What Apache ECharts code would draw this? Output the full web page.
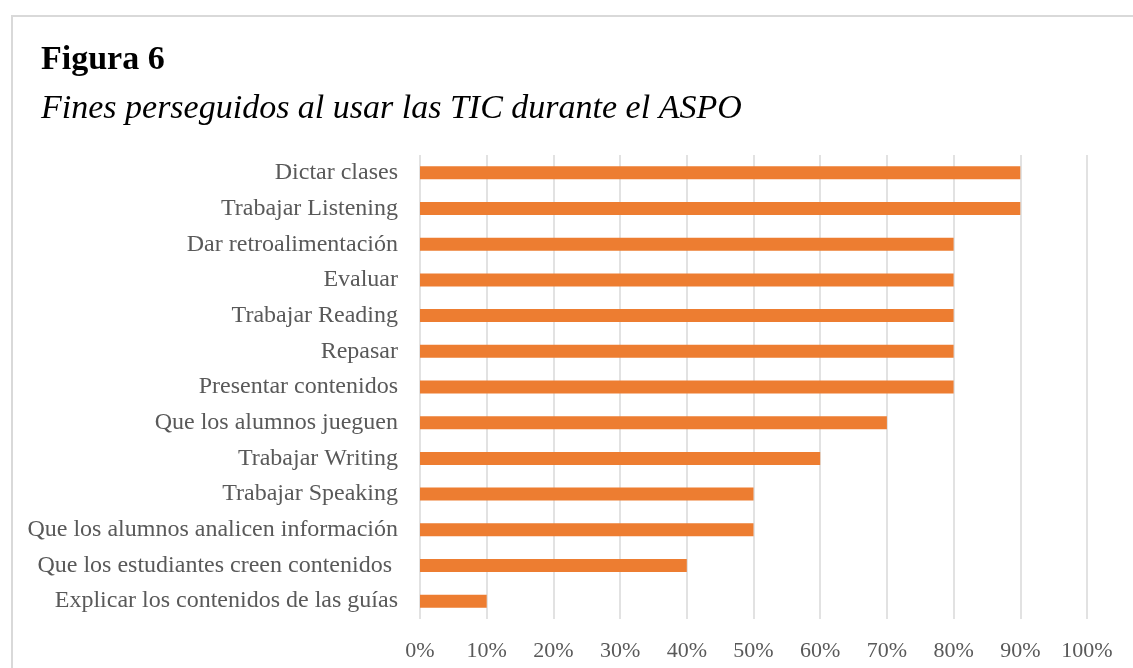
<!DOCTYPE html>
<html>
<head>
<meta charset="utf-8">
<script src="https://cdn.jsdelivr.net/npm/echarts@6/dist/echarts.min.js"></script>
<style>
  html, body { margin: 0; padding: 0; background: #fff; }
  #frame {
    position: absolute; left: 11px; top: 15px; width: 1140px; height: 700px;
    border-left: 2px solid #d9d9d9; border-top: 2px solid #d9d9d9;
  }
  #chart { position: absolute; left: 0; top: 0; width: 1133px; height: 668px; }
</style>
</head>
<body>
<div id="frame"></div>
<div id="chart"></div>
<script>
// categories listed bottom-to-top (category axis on y starts at the bottom)
const categories = [
  'Explicar los contenidos de las guías',
  'Que los estudiantes creen contenidos ',
  'Que los alumnos analicen información',
  'Trabajar Speaking',
  'Trabajar Writing',
  'Que los alumnos jueguen',
  'Presentar contenidos',
  'Repasar',
  'Trabajar Reading',
  'Evaluar',
  'Dar retroalimentación',
  'Trabajar Listening',
  'Dictar clases'
]
const values = [0.10, 0.40, 0.50, 0.50, 0.60, 0.70, 0.80, 0.80, 0.80, 0.80, 0.80, 0.90, 0.90]

const chart = echarts.init(document.getElementById('chart'))
chart.setOption({
  backgroundColor: 'transparent',
  animation: false,
  title: [{
    text: 'Figura 6',
    left: 41,
    top: 43,
    padding: 0,
    textStyle: { fontFamily: 'Liberation Serif', fontWeight: 'bold', fontSize: 34, color: '#000' }
  }, {
    text: 'Fines perseguidos al usar las TIC durante el ASPO',
    left: 41,
    top: 92,
    padding: 0,
    textStyle: { fontFamily: 'Liberation Serif', fontStyle: 'italic', fontWeight: 'normal', fontSize: 34, color: '#000' }
  }],
  grid: {
    left: 420,
    right: 46,
    top: 155,
    bottom: 49,
    containLabel: false
  },
  xAxis: {
    type: 'value',
    min: 0,
    max: 1,
    interval: 0.1,
    axisLabel: {
      formatter: v => Math.round(v * 100) + '%',
      fontFamily: 'Liberation Serif',
      fontSize: 22,
      color: '#595959',
      margin: 21
    },
    axisLine: { show: false },
    axisTick: { show: false },
    splitLine: { show: true, lineStyle: { color: '#d9d9d9', width: 1.5 } }
  },
  yAxis: {
    type: 'category',
    data: categories,
    axisLabel: {
      fontFamily: 'Liberation Serif',
      fontSize: 24,
      color: '#595959',
      margin: 22
    },
    axisLine: { show: false },
    axisTick: { show: false },
    splitLine: { show: false }
  },
  series: [{
    type: 'bar',
    data: values,
    barWidth: 13,
    itemStyle: { color: '#ED7D31' }
  }]
})
</script>
</body>
</html>
